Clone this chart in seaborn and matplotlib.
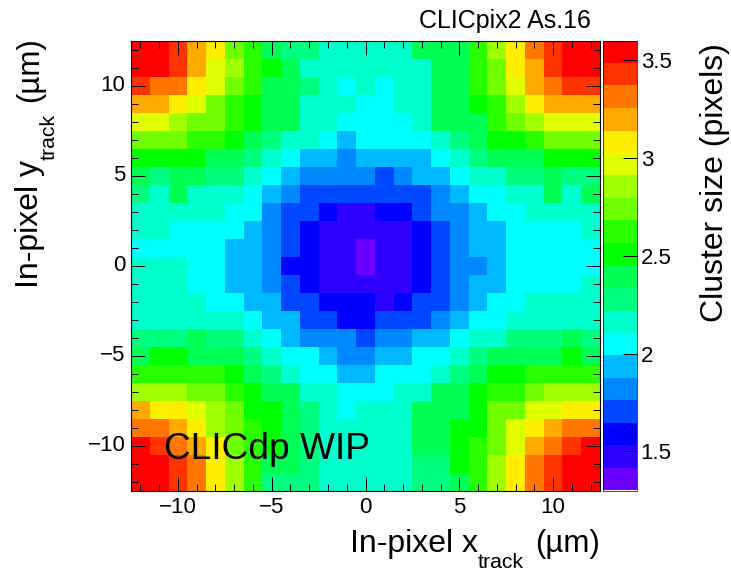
import matplotlib
matplotlib.use('Agg')
import matplotlib.pyplot as plt
import seaborn as sns
import pandas as pd
from matplotlib.colors import ListedColormap
from matplotlib.ticker import FixedLocator

# mean cluster size per in-pixel bin, top row (y = +12) first
y_p12 = [3.54,3.54,3.43,3.20,3.08,2.74,2.62,2.39,2.28,2.28,2.16,2.16,2.16,2.16,2.16,2.39,2.39,2.39,2.62,2.85,3.08,3.31,3.43,3.54,3.54]
y_p11 = [3.54,3.54,3.43,3.20,2.97,2.85,2.62,2.51,2.39,2.16,2.16,2.16,2.16,2.16,2.16,2.16,2.39,2.39,2.62,2.74,3.08,3.20,3.43,3.54,3.54]
y_p10 = [3.43,3.31,3.31,3.08,2.97,2.74,2.62,2.39,2.39,2.28,2.16,2.05,2.16,2.05,2.16,2.16,2.39,2.39,2.62,2.74,2.97,3.20,3.31,3.43,3.43]
y_p9 = [3.20,3.20,3.08,2.97,2.74,2.62,2.51,2.39,2.39,2.16,2.16,2.16,2.05,2.05,2.16,2.16,2.39,2.39,2.51,2.62,2.85,3.08,3.20,3.20,3.20]
y_p8 = [2.97,2.97,2.85,2.74,2.74,2.62,2.51,2.39,2.39,2.16,2.16,2.05,2.05,2.05,2.05,2.16,2.39,2.39,2.39,2.62,2.74,2.85,2.97,2.97,2.97]
y_p7 = [2.74,2.74,2.74,2.62,2.62,2.51,2.39,2.28,2.16,2.16,2.05,1.93,2.05,2.05,2.05,2.05,2.16,2.28,2.39,2.51,2.51,2.62,2.74,2.74,2.74]
y_p6 = [2.51,2.51,2.51,2.51,2.39,2.39,2.28,2.16,2.05,1.93,1.93,1.82,1.93,1.93,1.93,1.93,2.05,2.16,2.28,2.39,2.39,2.39,2.51,2.51,2.51]
y_p5 = [2.39,2.28,2.39,2.39,2.28,2.28,2.16,2.05,1.93,1.82,1.82,1.82,1.82,1.70,1.82,1.93,1.93,2.05,2.16,2.16,2.28,2.28,2.39,2.28,2.28]
y_p4 = [2.28,2.16,2.39,2.16,2.16,2.16,2.05,1.93,1.82,1.70,1.70,1.70,1.70,1.70,1.70,1.70,1.82,1.93,2.05,2.05,2.16,2.16,2.39,2.16,2.39]
y_p3 = [2.16,2.16,2.16,2.16,2.16,2.05,2.05,1.82,1.70,1.70,1.59,1.47,1.47,1.59,1.59,1.70,1.82,1.82,1.93,2.05,2.05,2.16,2.16,2.16,2.16]
y_p2 = [2.16,2.16,2.05,2.05,2.05,2.05,1.93,1.82,1.70,1.59,1.47,1.47,1.47,1.47,1.47,1.59,1.70,1.82,1.93,1.93,2.05,2.05,2.05,2.05,2.16]
y_p1 = [2.05,2.05,2.05,2.05,2.05,1.93,1.93,1.82,1.70,1.59,1.47,1.47,1.36,1.47,1.47,1.59,1.70,1.82,1.93,1.93,2.05,2.05,2.05,2.05,2.05]
y_0 = [2.16,2.16,2.16,2.05,2.05,1.93,1.93,1.82,1.59,1.59,1.47,1.47,1.36,1.47,1.47,1.59,1.70,1.82,1.82,1.93,2.05,2.05,2.05,2.05,2.05]
y_m1 = [2.16,2.16,2.16,2.05,2.05,1.93,1.93,1.82,1.70,1.59,1.47,1.47,1.47,1.47,1.47,1.59,1.70,1.82,1.93,1.93,2.05,2.05,2.05,2.05,2.16]
y_m2 = [2.16,2.16,2.16,2.16,2.05,2.05,1.93,1.93,1.70,1.70,1.59,1.59,1.59,1.47,1.59,1.70,1.70,1.82,1.93,2.05,2.05,2.16,2.16,2.16,2.16]
y_m3 = [2.16,2.16,2.16,2.16,2.16,2.16,2.05,1.93,1.93,1.70,1.70,1.59,1.59,1.70,1.70,1.70,1.82,1.93,2.05,2.05,2.16,2.16,2.16,2.16,2.16]
y_m4 = [2.28,2.28,2.28,2.39,2.28,2.28,2.16,2.05,1.93,1.82,1.82,1.82,1.70,1.82,1.82,1.93,1.93,2.05,2.16,2.16,2.28,2.28,2.28,2.39,2.28]
y_m5 = [2.39,2.51,2.51,2.39,2.39,2.39,2.28,2.16,2.05,2.05,1.93,1.82,1.82,1.93,1.93,2.05,2.05,2.16,2.28,2.39,2.39,2.39,2.39,2.51,2.39]
y_m6 = [2.62,2.62,2.62,2.62,2.62,2.51,2.39,2.28,2.16,2.05,2.05,1.93,1.93,2.05,2.05,2.05,2.16,2.28,2.39,2.51,2.51,2.62,2.62,2.62,2.62]
y_m7 = [2.85,2.85,2.85,2.74,2.74,2.62,2.51,2.39,2.39,2.16,2.16,2.05,2.05,2.05,2.16,2.16,2.39,2.39,2.51,2.62,2.62,2.74,2.85,2.85,2.85]
y_m8 = [3.20,3.08,3.08,2.97,2.85,2.74,2.51,2.51,2.39,2.28,2.16,2.05,2.16,2.16,2.16,2.39,2.39,2.39,2.51,2.74,2.74,2.97,2.97,3.08,3.08]
y_m9 = [3.31,3.31,3.20,3.08,2.85,2.74,2.62,2.51,2.39,2.28,2.16,2.16,2.16,2.16,2.16,2.39,2.39,2.51,2.51,2.74,2.97,3.08,3.20,3.31,3.31]
y_m10 = [3.54,3.43,3.31,3.20,3.08,2.74,2.62,2.51,2.39,2.28,2.16,2.16,2.16,2.16,2.16,2.39,2.39,2.51,2.62,2.74,2.97,3.20,3.31,3.43,3.54]
y_m11 = [3.54,3.54,3.43,3.31,3.08,2.85,2.62,2.39,2.39,2.28,2.16,2.16,2.16,2.16,2.16,2.28,2.28,2.51,2.62,2.85,3.08,3.31,3.43,3.54,3.54]
y_m12 = [3.54,3.54,3.43,3.31,3.08,2.85,2.62,2.28,2.28,2.28,2.16,2.16,2.16,2.16,2.16,2.28,2.28,2.39,2.62,2.85,3.08,3.31,3.43,3.54,3.54]

rows = [y_p12, y_p11, y_p10, y_p9, y_p8, y_p7, y_p6, y_p5, y_p4, y_p3, y_p2, y_p1, y_0,
        y_m1, y_m2, y_m3, y_m4, y_m5, y_m6, y_m7, y_m8, y_m9, y_m10, y_m11, y_m12]
x_bins = list(range(-12, 13))
y_bins = list(range(12, -13, -1))

band_colors = ['#6a00ff', '#3000ff', '#0000ff', '#0048ff', '#0088ff', '#00b8ff', '#00ffff',
               '#00ffcc', '#00ff80', '#00ff55', '#00ff00', '#2aff00', '#70ff00', '#a0ff00',
               '#e0ff00', '#ffee00', '#ffaa00', '#ff7700', '#ff3300', '#ff0000']
cbar_ticks = [1.5, 2, 2.5, 3, 3.5]
cbar_labels = ['1.5', '2', '2.5', '3', '3.5']
major_labels = ['\u221210', '\u22125', '0', '5', '10']

sns.set_style('white')
plt.rcParams['font.family'] = ['Liberation Sans', 'DejaVu Sans']
plt.rcParams['text.color'] = 'black'
plt.rcParams['xtick.color'] = 'black'
plt.rcParams['ytick.color'] = 'black'

W, H = 731, 572
fig = plt.figure(figsize=(W / 100, H / 100), dpi=100)
ax = fig.add_axes([131 / W, 1 - 490.5 / H, 469 / W, 450 / H])
cax = fig.add_axes([603 / W, 1 - 490.5 / H, 33.5 / W, 450 / H])

table = pd.DataFrame(rows, index=y_bins, columns=x_bins)
sns.heatmap(table, ax=ax, cbar_ax=cax, cmap=ListedColormap(band_colors), vmin=1.3, vmax=3.6,
            square=False, linewidths=0)

# heatmap cells are 1 wide, so um -> axis position is just an offset
ax.set_xticks([v + 12.5 for v in [-10, -5, 0, 5, 10]])
ax.set_xticklabels(major_labels, rotation=0, fontsize=16)
ax.set_yticks([12.5 - v for v in [-10, -5, 0, 5, 10]])
ax.set_yticklabels(major_labels, rotation=0, fontsize=16)
ax.xaxis.set_minor_locator(FixedLocator([v + 12.5 for v in x_bins]))
ax.yaxis.set_minor_locator(FixedLocator([12.5 - v for v in y_bins]))
ax.tick_params(which='major', direction='in', length=10, width=0.7, top=True, right=True,
               left=True, bottom=True, color='black', pad=4)
ax.tick_params(which='minor', direction='in', length=5, width=0.7, top=True, right=True,
               left=True, bottom=True, color='black')
ax.tick_params(axis='x', which='major', pad=5)
ax.set_axisbelow(False)
ax.set_xlabel('')
ax.set_ylabel('')
for sp in ax.spines.values():
    sp.set_visible(True)
    sp.set_color('black')
    sp.set_linewidth(0.8)

cb = ax.collections[0].colorbar
cb.set_ticks(cbar_ticks)
cb.set_ticklabels(cbar_labels)
cax.set_axisbelow(False)
cax.tick_params(direction='in', length=10, width=0.7, right=True, color='black', labelsize=16, pad=3)
cb.outline.set_visible(True)
cb.outline.set_edgecolor('black')
cb.outline.set_linewidth(0.5)

fig.text(591 / W, 1 - 28 / H, 'CLICpix2 As.16', ha='right', va='baseline', fontsize=18)
fig.text(164 / W, 1 - 459 / H, 'CLICdp WIP', ha='left', va='baseline', fontsize=26.7)

# axis titles built from pieces, the subscript sits lower than mathtext would put it
fig.text(350 / W, 1 - 552 / H, 'In-pixel x', ha='left', va='baseline', fontsize=23)
fig.text(478 / W, 1 - 568 / H, 'track', ha='left', va='baseline', fontsize=15.3)
fig.text(600 / W, 1 - 552 / H, '(\u00b5m)', ha='right', va='baseline', fontsize=22.5)
fig.text(37.7 / W, 1 - 288 / H, 'In-pixel y', ha='left', va='baseline', rotation=90,
         rotation_mode='anchor', fontsize=23)
fig.text(55 / W, 1 - 160 / H, 'track', ha='left', va='baseline', rotation=90,
         rotation_mode='anchor', fontsize=15.3)
fig.text(37.7 / W, 1 - 102 / H, '(\u00b5m)', ha='left', va='baseline', rotation=90,
         rotation_mode='anchor', fontsize=22.5)
fig.text(723 / W, 1 - 322 / H, 'Cluster size (pixels)', ha='left', va='baseline', rotation=90,
         rotation_mode='anchor', fontsize=23)

fig.savefig('out.png', dpi=100)
